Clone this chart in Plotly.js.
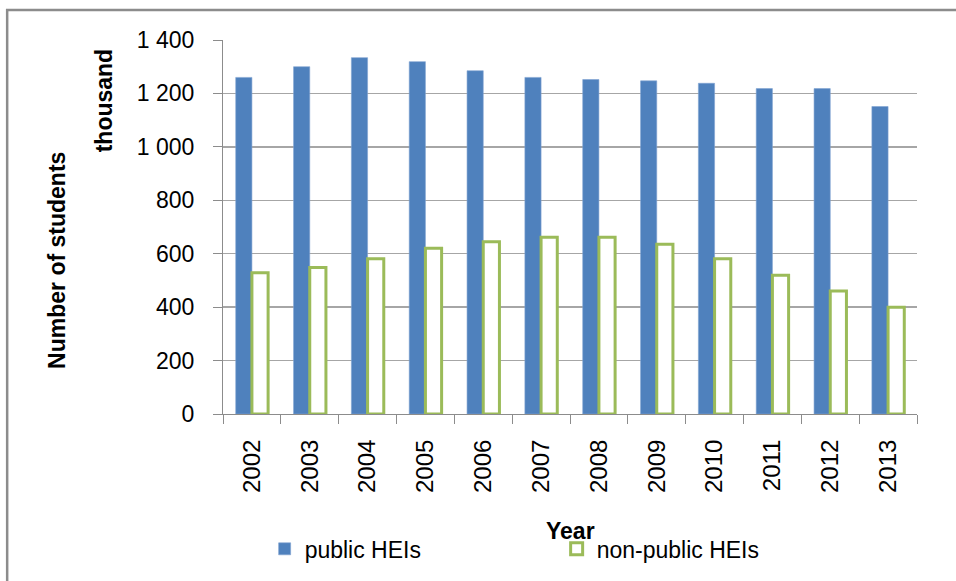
<!DOCTYPE html>
<html>
<head>
<meta charset="utf-8">
<script src="https://cdn.plot.ly/plotly-3.0.1.min.js"></script>
<style>
  html, body { margin: 0; padding: 0; background: #fff; }
  #chart { width: 956px; height: 581px; }
</style>
</head>
<body>
<div id="chart"></div>
<script>
const years = ["2002","2003","2004","2005","2006","2007","2008","2009","2010","2011","2012","2013"];
const publicHEIs = [1260, 1300, 1334, 1319, 1285, 1260, 1252, 1247, 1238, 1218, 1218, 1151];
const nonPublicHEIs = [529, 548, 581, 620, 645, 662, 662, 635, 581, 519, 460, 400];
const yTickVals = [0, 200, 400, 600, 800, 1000, 1200, 1400];
const yTickText = ["0", "200", "400", "600", "800", "1 000", "1 200", "1 400"];

const FONT = "'Liberation Sans', Arial, sans-serif";

const traces = [
  {
    type: "bar",
    name: "public HEIs",
    x: years,
    y: publicHEIs,
    marker: { color: "#4F81BD", line: { color: "#7FA3D1", width: 0.6 } },
    hoverinfo: "x+y+name"
  },
  {
    type: "bar",
    name: "non-public HEIs",
    x: years,
    y: nonPublicHEIs,
    marker: { color: "#FFFFFF", line: { color: "#9BBB59", width: 3 } },
    hoverinfo: "x+y+name"
  }
];

const layout = {
  width: 956,
  height: 581,
  margin: { l: 223, r: 39, t: 40, b: 166, pad: 0 },
  paper_bgcolor: "#FFFFFF",
  plot_bgcolor: "#FFFFFF",
  font: { family: FONT, color: "#000000", size: 23 },
  barmode: "group",
  bargap: 0.44,
  bargroupgap: 0,
  showlegend: true,
  legend: {
    orientation: "h",
    x: 0.06,
    xanchor: "left",
    y: -0.357,
    yanchor: "middle",
    font: { family: FONT, size: 23, color: "#000000" },
    entrywidth: 247,
    entrywidthmode: "pixels",
    bgcolor: "rgba(0,0,0,0)",
    traceorder: "normal"
  },
  xaxis: {
    type: "category",
    tickangle: -90,
    tickfont: { family: FONT, size: 24, color: "#000000" },
    ticks: "outside",
    tickson: "boundaries",
    ticklen: 9,
    tickcolor: "#8c8c8c",
    tickwidth: 1,
    ticklabelstandoff: 15,
    showline: true,
    linecolor: "#8c8c8c",
    linewidth: 1,
    showgrid: false,
    zeroline: false,
    fixedrange: true
  },
  yaxis: {
    range: [0, 1400],
    tickvals: yTickVals,
    ticktext: yTickText,
    tickfont: { family: FONT, size: 23, color: "#000000" },
    ticks: "outside",
    ticklen: 9,
    tickcolor: "#8c8c8c",
    tickwidth: 1,
    ticklabelstandoff: 14,
    showline: true,
    linecolor: "#8c8c8c",
    linewidth: 1,
    showgrid: true,
    gridcolor: "#a6a6a6",
    gridwidth: 1.3,
    zeroline: false,
    fixedrange: true
  },
  annotations: [
    {
      text: "<b>Number of students</b>",
      xref: "paper", yref: "paper",
      x: -0.2385, y: 0.4107,
      xanchor: "center", yanchor: "middle",
      textangle: -90,
      showarrow: false,
      font: { family: FONT, size: 23, color: "#000000" }
    },
    {
      text: "<b>thousand</b>",
      xref: "paper", yref: "paper",
      x: -0.1722, y: 0.84,
      xanchor: "center", yanchor: "middle",
      textangle: -90,
      showarrow: false,
      font: { family: FONT, size: 23, color: "#000000" }
    },
    {
      text: "<b>Year</b>",
      xref: "paper", yref: "paper",
      x: 0.5, y: -0.312,
      xanchor: "center", yanchor: "middle",
      showarrow: false,
      font: { family: FONT, size: 23, color: "#000000" }
    }
  ],
  shapes: [
    {
      type: "rect",
      xref: "paper", yref: "paper",
      x0: -0.311, x1: 1.12,
      y0: -0.5, y1: 1.08,
      line: { color: "#8c8c8c", width: 2.5 },
      fillcolor: "rgba(0,0,0,0)",
      layer: "below"
    }
  ]
};

Plotly.newPlot("chart", traces, layout, { displayModeBar: false, staticPlot: true });
</script>
</body>
</html>
